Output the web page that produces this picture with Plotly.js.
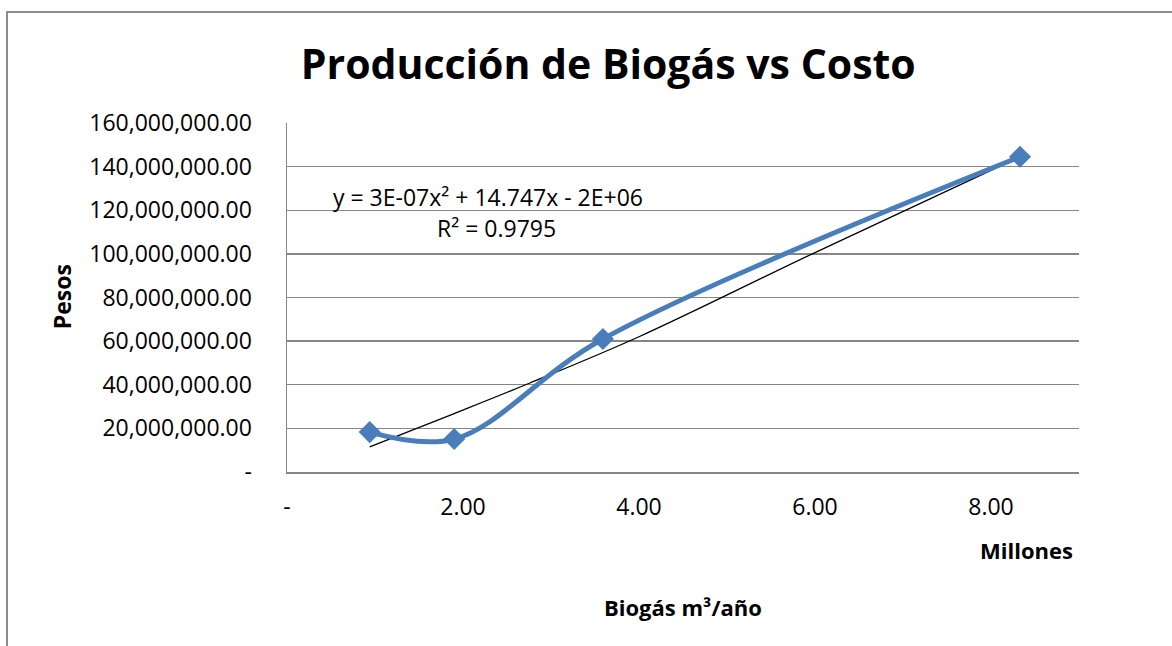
<!DOCTYPE html>
<html>
<head>
<meta charset="utf-8">
<script src="https://cdn.plot.ly/plotly-3.0.1.min.js"></script>
<style>
  html, body { margin: 0; padding: 0; background: #fff; }
  #wrap { position: relative; width: 1172px; height: 646px; overflow: hidden; }
  #chart { width: 1172px; height: 646px; }
  #frame { position: absolute; left: 6px; top: 11px; width: 1300px; height: 800px;
           border: 2px solid #8c8c8c; box-sizing: border-box; pointer-events: none; }
</style>
</head>
<body>
<div id="wrap">
  <div id="chart"></div>
  <div id="frame"></div>
</div>
<script>
// Biogás production (millions of m³/year) vs cost (pesos)
const biogasMillones = [0.94, 1.90, 3.59, 8.33];
const costoPesos = [18300000, 15100000, 61000000, 144500000];

// Trendline
const trendX = [0.94, 1.90, 2.76, 4.00, 6.00, 8.33];
const trendY = [11500000, 26800000, 40800000, 62000000, 100600000, 144500000];

const yTickVals = [0, 20000000, 40000000, 60000000, 80000000, 100000000, 120000000, 140000000, 160000000];
const yTickText = ['-', '20,000,000.00', '40,000,000.00', '60,000,000.00', '80,000,000.00',
                   '100,000,000.00', '120,000,000.00', '140,000,000.00', '160,000,000.00'];
const xTickVals = [0, 2, 4, 6, 8];
const xTickText = ['-', '2.00', '4.00', '6.00', '8.00'];

const chartTitle = 'Producción de Biogás vs Costo';
const eqText = 'y = 3E-07x² + 14.747x - 2E+06';
const r2Text = 'R² = 0.9795';

const FONT = '"Open Sans", "Noto Sans", sans-serif';

const traces = [
  {
    x: trendX, y: trendY, type: 'scatter', mode: 'lines',
    line: { color: '#000000', width: 1.3, shape: 'spline', smoothing: 1 },
    hoverinfo: 'skip'
  },
  {
    x: biogasMillones, y: costoPesos, type: 'scatter', mode: 'lines+markers',
    line: { color: '#4a7ebb', width: 5, shape: 'spline', smoothing: 1 },
    marker: { symbol: 'diamond', size: 17, color: '#4a7ebb' }
  }
];

const layout = {
  width: 1172, height: 646,
  margin: { l: 287, r: 93, t: 123, b: 174 },
  paper_bgcolor: '#ffffff', plot_bgcolor: '#ffffff',
  showlegend: false,
  font: { family: FONT, color: '#000000', size: 23 },
  title: {
    text: '<b>' + chartTitle + '</b>',
    font: { family: FONT, size: 41, color: '#000000' },
    x: 0.519, xref: 'container', xanchor: 'center',
    y: 1 - 65 / 646, yref: 'container', yanchor: 'middle'
  },
  xaxis: {
    range: [0, 9], tickvals: xTickVals, ticktext: xTickText,
    showgrid: false, zeroline: false,
    showline: true, linecolor: '#868686', linewidth: 1.5,
    ticks: '', ticklabelstandoff: 14,
    tickfont: { family: FONT, size: 23, color: '#000' }
  },
  yaxis: {
    range: [0, 160000000], tickvals: yTickVals, ticktext: yTickText,
    showgrid: true, gridcolor: '#868686', gridwidth: 1.3,
    zeroline: false,
    showline: true, linecolor: '#868686', linewidth: 1.5,
    ticks: '', ticklabelstandoff: 29,
    tickfont: { family: FONT, size: 23, color: '#000' }
  },
  annotations: [
    { text: eqText, xref: 'paper', yref: 'paper', x: 0.254, y: 0.788,
      xanchor: 'center', yanchor: 'middle', showarrow: false,
      font: { family: FONT, size: 23, color: '#000' } },
    { text: r2Text, xref: 'paper', yref: 'paper', x: 0.265, y: 0.699,
      xanchor: 'center', yanchor: 'middle', showarrow: false,
      font: { family: FONT, size: 23, color: '#000' } },
    { text: '<b>Millones</b>', xref: 'paper', yref: 'paper', x: 0.934, y: -0.2235,
      xanchor: 'center', yanchor: 'middle', showarrow: false,
      font: { family: FONT, size: 22, color: '#000' } },
    { text: '<b>Biogás m³/año</b>', xref: 'paper', yref: 'paper', x: 0.5, y: -0.387,
      xanchor: 'center', yanchor: 'middle', showarrow: false,
      font: { family: FONT, size: 22, color: '#000' } },
    { text: '<b>Pesos</b>', xref: 'paper', yref: 'paper', x: -0.284, y: 0.501,
      xanchor: 'center', yanchor: 'middle', showarrow: false, textangle: -90,
      font: { family: FONT, size: 23, color: '#000' } }
  ]
};

Plotly.newPlot('chart', traces, layout, { staticPlot: true, displayModeBar: false });
</script>
</body>
</html>
